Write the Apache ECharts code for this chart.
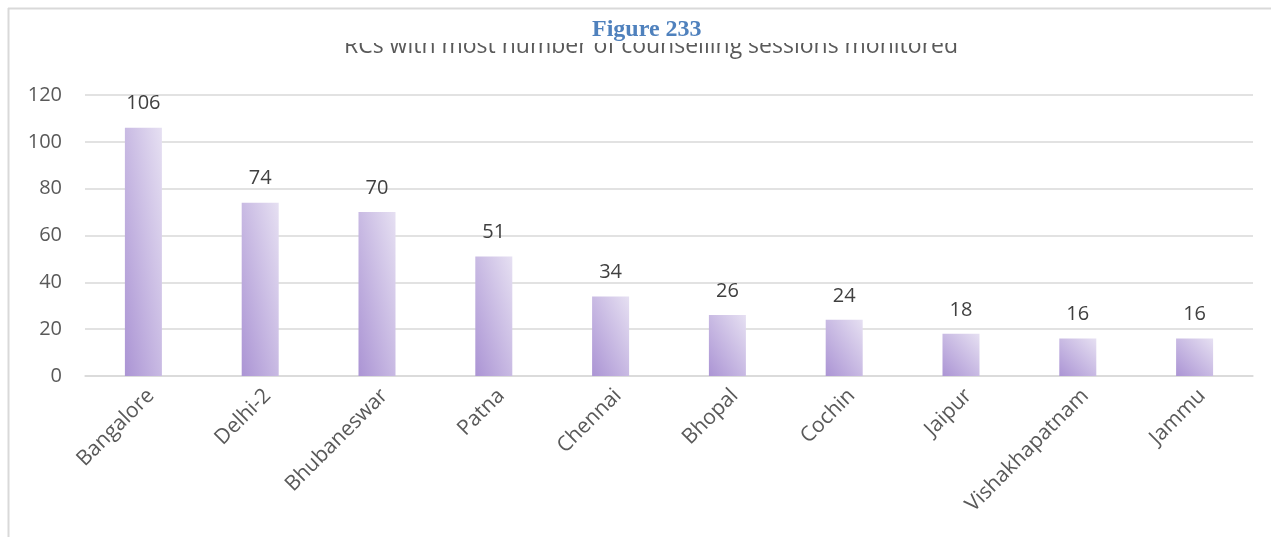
<!DOCTYPE html>
<html>
<head>
<meta charset="utf-8">
<script src="https://cdn.jsdelivr.net/npm/echarts@6/dist/echarts.min.js"></script>
<style>
  html, body { margin: 0; padding: 0; background: #fff; }
  #main { width: 1271px; height: 537px; }
</style>
</head>
<body>
<div id="main"></div>
<script>
// data
var categories = ['Bangalore', 'Delhi-2', 'Bhubaneswar', 'Patna', 'Chennai', 'Bhopal', 'Cochin', 'Jaipur', 'Vishakhapatnam', 'Jammu'];
var sessions = [106, 74, 70, 51, 34, 26, 24, 18, 16, 16];
var yTicks = [0, 20, 40, 60, 80, 100, 120];

var font = '"Open Sans", "Noto Sans", sans-serif';
var BAR_W = 37;
var chart = echarts.init(document.getElementById('main'));

chart.setOption({
  animation: false,
  title: {
    text: 'RCs with most number of counselling sessions monitored',
    left: 646,
    textAlign: 'center',
    top: 30,
    textStyle: { color: '#595959', fontSize: 23, fontWeight: 'normal', fontFamily: font }
  },
  grid: { left: 85, right: 18, top: 95, bottom: 161 },
  xAxis: {
    type: 'category',
    data: categories,
    axisLine: { show: true, lineStyle: { color: '#d9d9d9', width: 1.5 } },
    axisTick: { show: false },
    axisLabel: { rotate: 45, margin: 9, verticalAlign: 'top', color: '#595959', fontSize: 21, fontFamily: font }
  },
  yAxis: {
    type: 'value',
    min: yTicks[0],
    max: yTicks[yTicks.length - 1],
    interval: 20,
    axisLine: { show: false },
    axisTick: { show: false },
    axisLabel: { margin: 23, color: '#595959', fontSize: 20, fontFamily: font },
    splitLine: { lineStyle: { color: '#d9d9d9', width: 1.5 } }
  },
  series: [{
    type: 'bar',
    data: sessions,
    barWidth: BAR_W,
    itemStyle: { color: '#c8bae3' },
    label: {
      show: true,
      position: 'top',
      distance: 14,
      color: '#404040',
      fontSize: 20,
      fontFamily: font
    }
  }],
  graphic: [
    // outer frame (top and left edges)
    { type: 'line', z: 100, shape: { x1: 8, y1: 8.5, x2: 1271, y2: 8.5 }, style: { stroke: '#d9d9d9', lineWidth: 2 } },
    { type: 'line', z: 100, shape: { x1: 8.5, y1: 8, x2: 8.5, y2: 537 }, style: { stroke: '#d9d9d9', lineWidth: 2 } },
    // caption box hiding the top of the chart title
    { type: 'rect', z: 100, shape: { x: 300, y: 10, width: 700, height: 33 }, style: { fill: '#fff' } },
    {
      type: 'text', z: 101, left: 592, top: 18,
      style: { text: 'Figure 233', fill: '#4f81bd', font: 'bold 24px "Liberation Serif", serif' }
    }
  ]
});

// diagonal gradient that scales with each bar's shape (corner to corner)
var zeroY = chart.convertToPixel({ yAxisIndex: 0 }, 0);
var styled = sessions.map(function (v) {
  var h = Math.abs(zeroY - chart.convertToPixel({ yAxisIndex: 0 }, v));
  var w = BAR_W;
  var s = h * h + w * w;
  return {
    value: v,
    itemStyle: {
      color: new echarts.graphic.LinearGradient(0, 1, 2 * h * h / s, 1 - 2 * w * w / s, [
        { offset: 0, color: '#ab94d4' },
        { offset: 1, color: '#e6e0f2' }
      ])
    }
  };
});
chart.setOption({ series: [{ data: styled }] });
</script>
</body>
</html>
